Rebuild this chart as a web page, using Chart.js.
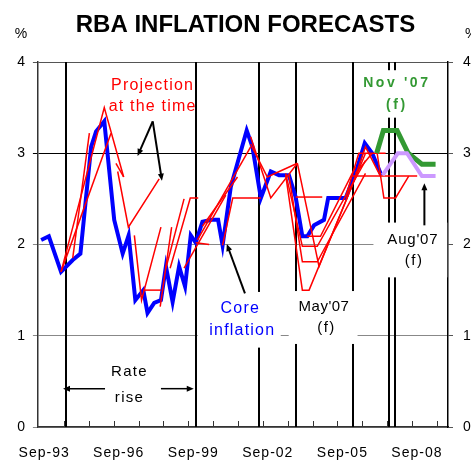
<!DOCTYPE html>
<html>
<head>
<meta charset="utf-8">
<script src="https://cdn.jsdelivr.net/npm/chart.js@4.4.0/dist/chart.umd.min.js"></script>
<style>
html, body { margin: 0; padding: 0; background: #fff; }
canvas { display: block; }
</style>
</head>
<body>
<canvas id="rbaChart" width="471" height="462"></canvas>
<script>
// axis ticks
let tickYears = [1993.75, 1996.75, 1999.75, 2002.75, 2005.75, 2008.75];
let tickLabels = ['Sep-93', 'Sep-96', 'Sep-99', 'Sep-02', 'Sep-05', 'Sep-08'];
let minorTickYears = [1994.55, 1995.55, 1996.55, 1997.55, 1998.55, 1999.55, 2000.55, 2001.55,
  2002.55, 2003.55, 2004.55, 2005.55, 2006.55, 2007.55, 2008.55, 2009.55];

// rate rises (vertical lines)
let rateRiseDates = [1994.63, 1999.88, 2002.38, 2003.9, 2006.16, 2007.62, 2007.86];

// core inflation, actual
let coreDates = [1993.63, 1993.94, 1994.43, 1994.90, 1995.21, 1995.64, 1995.84, 1996.17, 1996.57, 1996.91,
  1997.15, 1997.42, 1997.74, 1997.91, 1998.18, 1998.45, 1998.65, 1998.92, 1999.18, 1999.42,
  1999.65, 1999.85, 2000.12, 2000.50, 2000.75, 2000.93, 2001.26, 2001.59, 2001.90, 2002.13,
  2002.47, 2002.87, 2003.20, 2003.60, 2003.87, 2004.14, 2004.34, 2004.61, 2005.01, 2005.18,
  2005.88, 2006.28, 2006.65, 2006.95, 2007.32];
let coreValues = [2.05, 2.09, 1.70, 1.83, 1.90, 3.07, 3.24, 3.35, 2.27, 1.90,
  2.10, 1.39, 1.50, 1.25, 1.36, 1.39, 1.76, 1.37, 1.76, 1.54,
  2.10, 2.02, 2.25, 2.27, 2.27, 1.99, 2.63, 2.95, 3.25, 3.07,
  2.51, 2.80, 2.76, 2.76, 2.52, 2.09, 2.09, 2.21, 2.27, 2.51,
  2.51, 2.78, 3.11, 3.00, 2.76];

// forecasts
let novDates = [2007.13, 2007.40, 2007.95, 2008.40, 2008.95, 2009.50];
let novValues = [3.0, 3.25, 3.25, 3.0, 2.88, 2.88];
let augDates = [2007.37, 2007.98, 2008.35, 2008.95, 2009.50];
let augValues = [2.76, 3.0, 3.0, 2.75, 2.75];

// projections at the time: [date, value] pairs
let projections = [
  [[1994.43, 1.70], [1996.17, 3.50], [1996.95, 2.74]],
  [[1994.43, 1.70], [1996.44, 3.22]],
  [[1994.90, 1.85], [1995.57, 3.22]],
  [[1996.71, 2.80], [1997.14, 2.19], [1998.38, 2.72]],
  [[1996.64, 2.89], [1996.95, 2.74]],
  [[1997.38, 2.10], [1997.67, 1.39], [1998.45, 2.19]],
  [[1997.74, 1.50], [1998.45, 1.50]],
  [[1998.42, 1.32], [1998.88, 2.19]],
  [[1998.65, 1.74], [1999.38, 2.50]],
  [[1998.82, 1.74], [1999.63, 2.51], [1999.95, 2.51]],
  [[1999.38, 1.74], [2001.06, 2.54]],
  [[1999.85, 2.02], [2000.39, 2.00]],
  [[1999.92, 2.05], [2002.06, 3.07]],
  [[2000.12, 2.20], [2001.53, 2.74]],
  [[2000.93, 1.99], [2001.34, 2.51], [2002.47, 2.51]],
  [[2002.06, 3.18], [2002.87, 2.51], [2003.94, 2.89]],
  [[2002.06, 3.10], [2002.73, 2.74], [2003.94, 2.89]],
  [[2003.47, 2.76], [2004.14, 1.50], [2004.41, 1.50], [2006.00, 2.55]],
  [[2003.47, 2.78], [2004.14, 1.98], [2004.74, 1.98], [2006.68, 2.92]],
  [[2003.60, 2.76], [2004.14, 1.81], [2004.74, 1.81], [2006.68, 2.78]],
  [[2003.87, 2.52], [2004.94, 2.52]],
  [[2003.94, 2.89], [2004.81, 1.76], [2006.68, 3.00]],
  [[2004.34, 2.09], [2004.87, 2.09], [2006.28, 2.85]],
  [[2005.88, 2.52], [2006.41, 3.00], [2007.49, 3.00]],
  [[2006.15, 2.75], [2008.76, 2.75]],
  [[2006.08, 2.60], [2006.68, 3.07], [2007.28, 2.75]],
  [[2007.15, 3.00], [2007.42, 2.51], [2007.89, 2.51], [2008.42, 2.75]],
  [[2006.28, 2.78], [2006.95, 3.00]]
];

// white boxes behind the notes: [x0, x1, yTop, yBottom] in data units
let labelBoxes = [
  [1999.93, 2003.27, 1.48, 0.87],
  [2003.59, 2006.36, 1.49, 0.91],
  [2007.00, 2009.97, 2.24, 1.64],
  [2006.48, 2009.37, 3.91, 3.39]
];

let ctx = document.getElementById('rbaChart');
Chart.defaults.font.family = '"Liberation Sans", Arial, sans-serif';
Chart.defaults.font.size = 14;
Chart.defaults.color = '#000';

function arrow(c, x0, y0, x1, y1) {
  let ang = Math.atan2(y1 - y0, x1 - x0);
  c.beginPath();
  c.moveTo(x0, y0);
  c.lineTo(x1 - 5 * Math.cos(ang), y1 - 5 * Math.sin(ang));
  c.stroke();
  c.beginPath();
  c.moveTo(x1, y1);
  c.lineTo(x1 - 7 * Math.cos(ang) + 3 * Math.sin(ang), y1 - 7 * Math.sin(ang) - 3 * Math.cos(ang));
  c.lineTo(x1 - 7 * Math.cos(ang) - 3 * Math.sin(ang), y1 - 7 * Math.sin(ang) + 3 * Math.cos(ang));
  c.closePath();
  c.fill();
}

const overlay = {
  id: 'overlay',
  beforeUpdate(chart) {
    chart.ctx.letterSpacing = '1px';
  },
  beforeDatasetsDraw(chart) {
    let c = chart.ctx, a = chart.chartArea, x = chart.scales.x, y = chart.scales.y;
    c.save();
    c.strokeStyle = '#000';
    c.lineWidth = 2;
    rateRiseDates.forEach(d => {
      let px = Math.round(x.getPixelForValue(d));
      c.beginPath();
      c.moveTo(px, a.top);
      c.lineTo(px, a.bottom);
      c.stroke();
    });
    c.fillStyle = '#fff';
    labelBoxes.forEach(b => {
      let x0 = x.getPixelForValue(b[0]), x1 = x.getPixelForValue(b[1]);
      let y0 = y.getPixelForValue(b[2]), y1 = y.getPixelForValue(b[3]);
      c.fillRect(x0, y0, x1 - x0, y1 - y0);
    });
    // inward tick marks on the date axis
    c.strokeStyle = '#333';
    c.lineWidth = 1;
    minorTickYears.forEach(d => {
      let px = Math.round(x.getPixelForValue(d)) + 0.5;
      c.beginPath();
      c.moveTo(px, a.bottom);
      c.lineTo(px, a.bottom - 6);
      c.stroke();
    });
    c.restore();
  },
  afterDatasetsDraw(chart) {
    let c = chart.ctx, x = chart.scales.x, y = chart.scales.y;
    let X = v => x.getPixelForValue(v), Y = v => y.getPixelForValue(v);
    c.save();
    c.textAlign = 'center';
    c.textBaseline = 'middle';

    function txt(s, d, v, font, color, sp) {
      c.font = font;
      c.fillStyle = color;
      c.letterSpacing = sp + 'px';
      c.fillText(s, X(d) + sp / 2, Y(v));
    }
    let f = '"Liberation Sans", Arial, sans-serif';
    txt('Projection', 1998.09, 3.74, '16px ' + f, '#ff0000', 1.2);
    txt('at the time', 1998.09, 3.51, '16px ' + f, '#ff0000', 1.2);
    txt('Core', 2001.62, 1.30, '16px ' + f, '#0000ff', 1.2);
    txt('inflation', 2001.70, 1.06, '16px ' + f, '#0000ff', 1.2);
    txt("May'07", 2005.0, 1.315, '15px ' + f, '#000', 0.5);
    txt('(f)', 2005.08, 1.085, '15px ' + f, '#000', 1.5);
    txt("Aug'07", 2008.57, 2.05, '15px ' + f, '#000', 0.8);
    txt('(f)', 2008.61, 1.82, '15px ' + f, '#000', 1.5);
    txt("Nov '07", 2007.89, 3.77, 'bold 14px ' + f, '#339933', 2.6);
    txt('(f)', 2007.89, 3.53, 'bold 14px ' + f, '#339933', 2.6);
    txt('Rate', 1997.16, 0.60, '15px ' + f, '#000', 1.3);
    txt('rise', 1997.16, 0.32, '15px ' + f, '#000', 1.3);

    c.strokeStyle = '#000';
    c.fillStyle = '#000';
    c.lineWidth = 2;
    arrow(c, X(1998.12), Y(3.35), X(1997.51), Y(2.97));
    arrow(c, X(1998.12), Y(3.35), X(1998.49), Y(2.70));
    arrow(c, X(2001.83), Y(1.465), X(2001.10), Y(2.005));
    arrow(c, X(2009.05), Y(2.21), X(2009.05), Y(2.67));
    c.lineWidth = 1.5;
    arrow(c, X(1996.20), Y(0.42), X(1994.51), Y(0.42));
    arrow(c, X(1998.45), Y(0.42), X(1999.77), Y(0.42));
    c.restore();
  },
  afterDraw(chart) {
    let c = chart.ctx;
    c.save();
    c.letterSpacing = '0px';
    c.fillStyle = '#000';
    c.textAlign = 'center';
    c.textBaseline = 'alphabetic';
    c.font = 'bold 24px "Liberation Sans", Arial, sans-serif';
    c.fillText('RBA INFLATION FORECASTS', 245.5, 32);
    c.font = '14px "Liberation Sans", Arial, sans-serif';
    c.fillText('%', 21, 38);
    c.textAlign = 'left';
    c.fillText('%', 465, 38);
    c.restore();
  }
};

let datasets = projections.map(p => ({
  data: p.map(q => ({ x: q[0], y: q[1] })),
  borderColor: '#ff0000',
  borderWidth: 1.5,
  pointRadius: 0,
  order: 1
}));
datasets.push({
  label: 'Core inflation',
  data: coreDates.map((d, i) => ({ x: d, y: coreValues[i] })),
  borderColor: '#0000ff',
  borderWidth: 4,
  pointRadius: 0,
  order: 2
});
datasets.push({
  label: "Aug'07 (f)",
  data: augDates.map((d, i) => ({ x: d, y: augValues[i] })),
  borderColor: '#cc99ff',
  borderWidth: 4,
  pointRadius: 0,
  order: 0
});
datasets.push({
  label: "Nov '07 (f)",
  data: novDates.map((d, i) => ({ x: d, y: novValues[i] })),
  borderColor: '#339933',
  borderWidth: 5,
  pointRadius: 0,
  order: 0
});

new Chart(ctx, {
  type: 'line',
  data: { datasets: datasets },
  plugins: [overlay],
  options: {
    responsive: false,
    animation: false,
    devicePixelRatio: 1,
    layout: { padding: { top: 62, left: 0, right: 0, bottom: 0 } },
    plugins: { legend: { display: false }, tooltip: { enabled: false } },
    scales: {
      x: {
        type: 'linear',
        min: 1993.5,
        max: 2010,
        afterBuildTicks: s => { s.ticks = tickYears.map(v => ({ value: v })); },
        ticks: { callback: (v, i) => tickLabels[i], autoSkip: false, maxRotation: 0, padding: 18 },
        grid: { drawOnChartArea: false, drawTicks: false },
        border: { display: true, color: '#333', width: 1.5 },
        afterFit: s => { s.height = 35; }
      },
      y: {
        position: 'left',
        min: 0,
        max: 4,
        ticks: { stepSize: 1, padding: 7 },
        grid: {
          color: c => c.tick.value === 3 ? '#000' : (c.tick.value === 4 ? '#555' : '#888'),
          tickLength: 5
        },
        border: { color: '#333', width: 1.5 },
        afterFit: s => { s.width = 37; }
      },
      y2: {
        position: 'right',
        min: 0,
        max: 4,
        ticks: { stepSize: 1, padding: 10 },
        grid: { drawOnChartArea: false, color: '#555', tickLength: 5 },
        border: { color: '#000', width: 1.5 },
        afterFit: s => { s.width = 23; }
      }
    }
  }
});
</script>
</body>
</html>
